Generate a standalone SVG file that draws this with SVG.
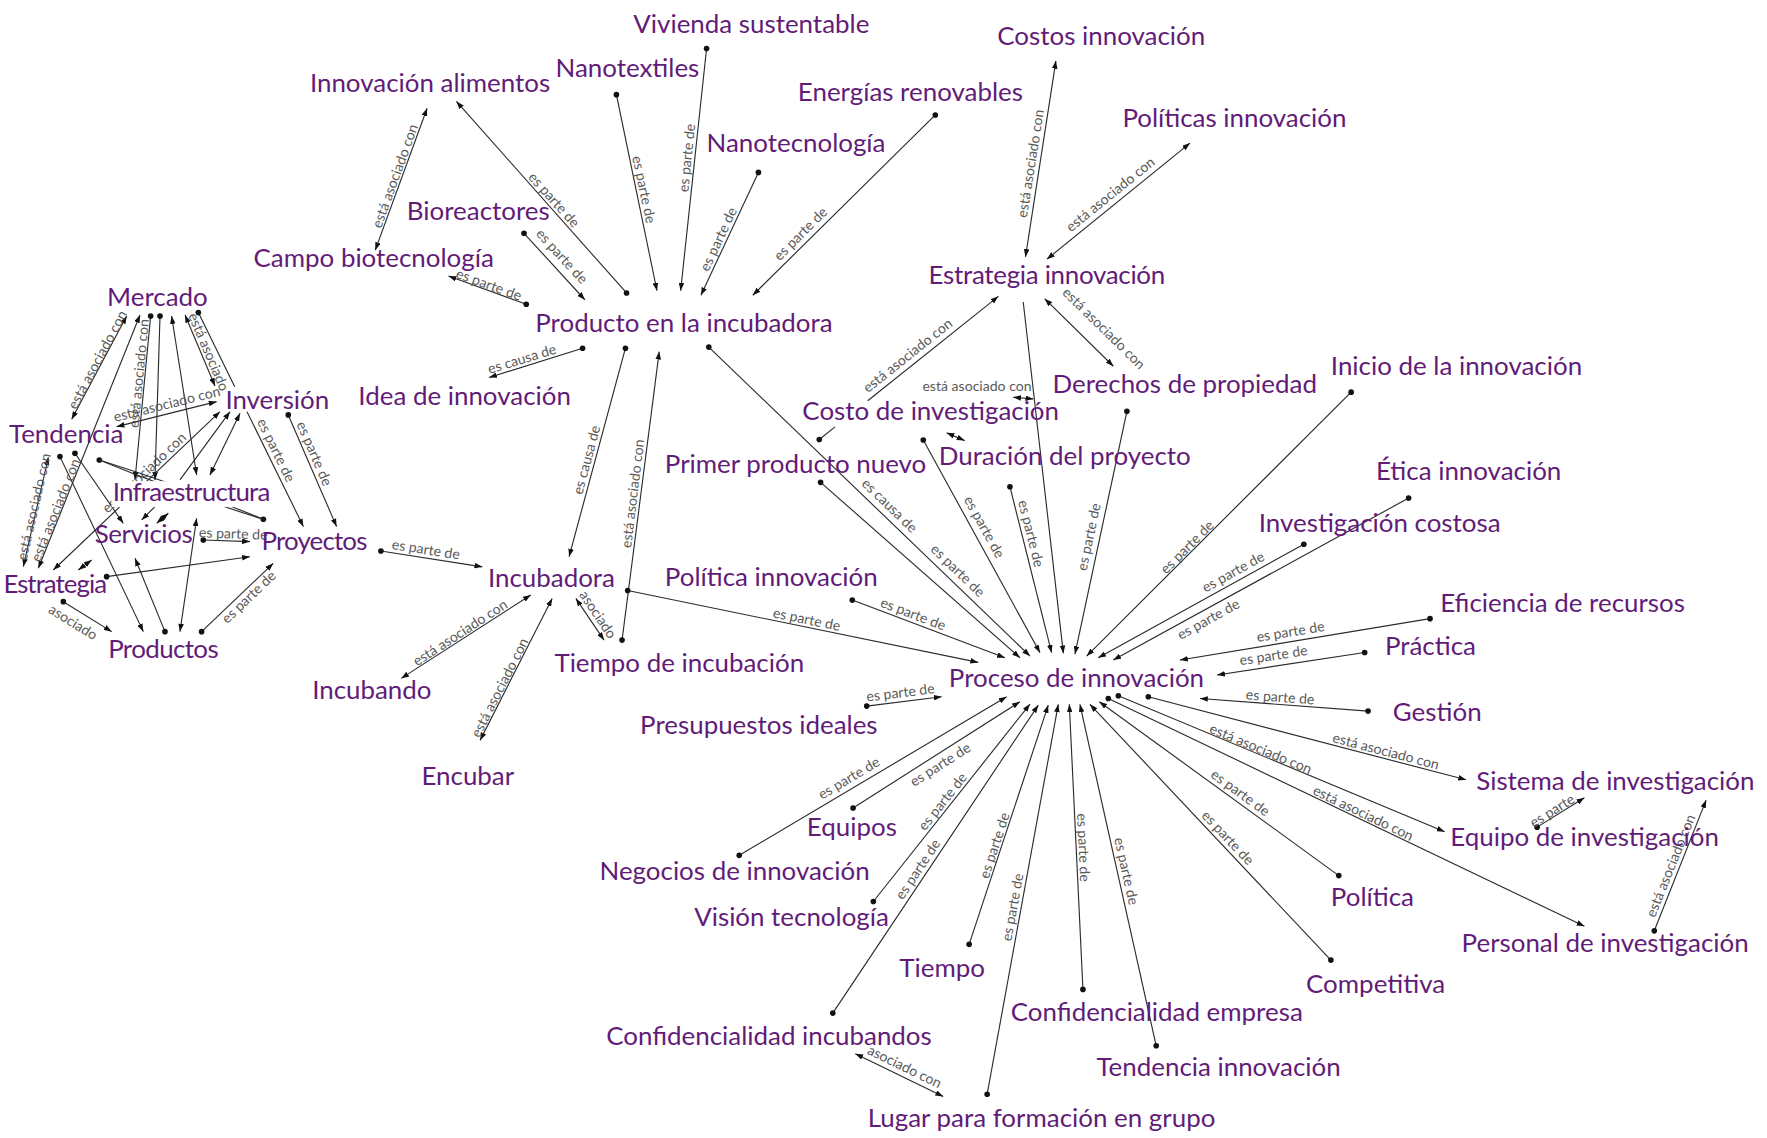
<svg xmlns="http://www.w3.org/2000/svg" width="1767" height="1138" viewBox="0 0 1767 1138">
<style>
.n{font-family:Lato,"Open Sans",sans-serif;font-size:23px;fill:#621c78}
.l{font-family:Lato,"Open Sans",sans-serif;font-size:12.5px;fill:#5a5a5a;text-anchor:middle;dominant-baseline:central}
.c{stroke:#2a2a2a;stroke-width:1;fill:none}
.e{marker-start:url(#dot);marker-end:url(#ah)}
.b{marker-start:url(#ah);marker-end:url(#ah)}
.a{marker-end:url(#ah)}
.d{marker-start:url(#dot)}
.dd{marker-start:url(#dot);marker-end:url(#dot)}
</style>
<defs>
<marker id="ah" viewBox="0 0 7 5" refX="7" refY="2.5" markerWidth="7" markerHeight="5" orient="auto-start-reverse" markerUnits="userSpaceOnUse"><path d="M0,0L7,2.5L0,5z" fill="#111"/></marker>
<marker id="dot" viewBox="-3 -3 6 6" refX="0" refY="0" markerWidth="6" markerHeight="6" markerUnits="userSpaceOnUse"><circle r="2.5" fill="#111"/></marker>
</defs>
<rect width="1767" height="1138" fill="#fff"/>
<g transform="scale(1.1269)">
<g id="connectors">
<line class="c b" x1="333" y1="222" x2="379" y2="96"/><text class="l" transform="translate(350,156) rotate(-70)">está asociado con</text>
<line class="c e" x1="556" y1="260" x2="405" y2="90"/><text class="l" transform="translate(492,177) rotate(48)">es parte de</text>
<line class="c e" x1="465" y1="207" x2="519" y2="266"/><text class="l" transform="translate(499,227) rotate(47.5)">es parte de</text>
<line class="c e" x1="467" y1="270" x2="398" y2="245"/><text class="l" transform="translate(434,252) rotate(20)">es parte de</text>
<line class="c e" x1="547" y1="84" x2="583" y2="258"/><text class="l" transform="translate(572,168) rotate(78)">es parte de</text>
<line class="c e" x1="627" y1="43" x2="604" y2="258"/><text class="l" transform="translate(609,140) rotate(-84)">es parte de</text>
<line class="c e" x1="673" y1="153" x2="622" y2="262"/><text class="l" transform="translate(637,212) rotate(-65)">es parte de</text>
<line class="c e" x1="830" y1="102" x2="668" y2="262"/><text class="l" transform="translate(710,207) rotate(-45)">es parte de</text>
<line class="c e" x1="517" y1="309" x2="434" y2="335"/><text class="l" transform="translate(463,318) rotate(-17)">es causa de</text>
<line class="c e" x1="555" y1="309" x2="505" y2="494"/><text class="l" transform="translate(520,408) rotate(-75)">es causa de</text>
<line class="c e" x1="552" y1="568" x2="585" y2="312"/><text class="l" transform="translate(561,438) rotate(-83)">está asociado con</text>
<line class="c e" x1="629" y1="308" x2="914" y2="582.2"/><text class="l" transform="translate(789.8,448.2) rotate(44)">es causa de</text><text class="l" transform="translate(850.4,505.9) rotate(44)">es parte de</text>
<line class="c e" x1="728.2" y1="428" x2="905.1" y2="583.7"/>
<line class="c e" x1="756.3" y1="532.5" x2="891.8" y2="583.7"/><text class="l" transform="translate(810.5,544.3) rotate(21)">es parte de</text>
<line class="c e" x1="557" y1="524" x2="868.1" y2="587.8"/><text class="l" transform="translate(716,549) rotate(11.6)">es parte de</text>
<line class="c e" x1="819.3" y1="390.5" x2="922.9" y2="579.2"/><text class="l" transform="translate(874,467.4) rotate(61)">es parte de</text>
<line class="c e" x1="896.2" y1="431.9" x2="933.2" y2="579.2"/><text class="l" transform="translate(915.5,473.3) rotate(76)">es parte de</text>
<line class="c a" x1="908" y1="268" x2="943.6" y2="579.8"/>
<line class="c e" x1="1000" y1="365" x2="953.9" y2="580.4"/><text class="l" transform="translate(965.7,476.3) rotate(-78)">es parte de</text>
<line class="c e" x1="1199" y1="348" x2="964.3" y2="582.2"/><text class="l" transform="translate(1053,485) rotate(-45)">es parte de</text>
<line class="c e" x1="1157" y1="483" x2="974.6" y2="583.7"/><text class="l" transform="translate(1094,507) rotate(-29)">es parte de</text>
<line class="c e" x1="1250" y1="442" x2="987.9" y2="585.7"/><text class="l" transform="translate(1072,549) rotate(-29)">es parte de</text>
<line class="c e" x1="1269" y1="549" x2="1047.1" y2="585.7"/><text class="l" transform="translate(1145,560) rotate(-9.4)">es parte de</text>
<line class="c e" x1="1211" y1="579" x2="1080" y2="599"/><text class="l" transform="translate(1130,581) rotate(-8.7)">es parte de</text>
<line class="c e" x1="1214" y1="631" x2="1064.8" y2="619.8"/><text class="l" transform="translate(1136,618) rotate(4.3)">es parte de</text>
<line class="c e" x1="1019" y1="618.3" x2="1301" y2="692"/><text class="l" transform="translate(1230,666) rotate(14.7)">está asociado con</text>
<line class="c e" x1="992.4" y1="617.4" x2="1282" y2="738"/><text class="l" transform="translate(1119,664) rotate(22.6)">está asociado con</text>
<line class="c e" x1="983.5" y1="619.8" x2="1406" y2="822"/><text class="l" transform="translate(1210,721) rotate(25.6)">está asociado con</text>
<line class="c e" x1="1188" y1="777" x2="975.5" y2="622.7"/><text class="l" transform="translate(1101,703) rotate(36)">es parte de</text>
<line class="c e" x1="1181" y1="852" x2="967.2" y2="625"/><text class="l" transform="translate(1090,743) rotate(46.7)">es parte de</text>
<line class="c e" x1="1026" y1="928" x2="958.3" y2="625"/><text class="l" transform="translate(1000,773) rotate(77.4)">es parte de</text>
<line class="c e" x1="961" y1="878" x2="948.9" y2="625"/><text class="l" transform="translate(962,752) rotate(87.3)">es parte de</text>
<line class="c e" x1="876" y1="971" x2="939.1" y2="625"/><text class="l" transform="translate(898,805) rotate(-79.7)">es parte de</text>
<line class="c e" x1="860" y1="838" x2="930.2" y2="625.7"/><text class="l" transform="translate(882,750) rotate(-71.7)">es parte de</text>
<line class="c e" x1="739" y1="899" x2="921.4" y2="625.7"/><text class="l" transform="translate(814,771) rotate(-56.3)">es parte de</text>
<line class="c e" x1="775" y1="800" x2="914" y2="624.8"/><text class="l" transform="translate(836,711) rotate(-51.6)">es parte de</text>
<line class="c e" x1="757" y1="717" x2="905.1" y2="622.7"/><text class="l" transform="translate(834,678) rotate(-32.5)">es parte de</text>
<line class="c e" x1="656" y1="759" x2="893.3" y2="618.3"/><text class="l" transform="translate(753,690) rotate(-30.7)">es parte de</text>
<line class="c e" x1="769.1" y1="626.6" x2="835.6" y2="618.3"/><text class="l" transform="translate(799,614) rotate(-7)">es parte de</text>
<line class="c b" x1="937" y1="54" x2="910" y2="228"/><text class="l" transform="translate(914,145) rotate(-81)">está asociado con</text>
<line class="c b" x1="1056" y1="127" x2="929" y2="230"/><text class="l" transform="translate(985,172) rotate(-39)">está asociado con</text>
<line class="c b" x1="927" y1="265" x2="988" y2="325"/><text class="l" transform="translate(980,291) rotate(44.5)">está asociado con</text>
<line class="c d" x1="727" y1="390" x2="741" y2="378.8"/><line class="c a" x1="770" y1="355.6" x2="886" y2="263"/><text class="l" transform="translate(805,315) rotate(-38.6)">está asociado con</text>
<text class="l" x="867" y="342">está asociado con</text><line class="c b" x1="899" y1="352.5" x2="917" y2="354"/>
<line class="c b" x1="840" y1="384" x2="856" y2="391"/>
<line class="c e" x1="338" y1="489" x2="428" y2="503"/><text class="l" transform="translate(378,487) rotate(8.8)">es parte de</text>
<line class="c b" x1="471" y1="528" x2="356" y2="602"/><text class="l" transform="translate(408,561) rotate(-33)">está asociado con</text>
<line class="c b" x1="490" y1="531" x2="426" y2="657"/><text class="l" transform="translate(443,610) rotate(-63)">está asociado con</text>
<line class="c b" x1="511" y1="531" x2="536" y2="568"/><text class="l" transform="translate(531,545) rotate(56)">asociado</text>
<line class="c b" x1="759" y1="935" x2="837" y2="973"/><text class="l" transform="translate(803,946) rotate(26)">asociado con</text>
<line class="c e" x1="1364" y1="734" x2="1406" y2="708"/><text class="l" transform="translate(1377,719) rotate(-32)">es parte</text>
<line class="c e" x1="1468" y1="826" x2="1514" y2="710"/><text class="l" transform="translate(1482,768) rotate(-68)">está asociado con</text>
<line class="c b" x1="112.4" y1="280.4" x2="63.6" y2="372.1"/><text class="l" transform="translate(86,319) rotate(-62)">está asociado con</text>
<line class="c b" x1="124.2" y1="279.5" x2="34" y2="504.3"/><text class="l" transform="translate(48.8,452.5) rotate(-68)">está asociado con</text>
<line class="c b" x1="42.9" y1="405.8" x2="20.7" y2="502.8"/><text class="l" transform="translate(29.6,449.6) rotate(-77)">está asociado con</text>
<line class="c e" x1="133.7" y1="280.4" x2="119.8" y2="425.9"/><text class="l" transform="translate(122.7,331.3) rotate(-84.5)">está asociado con</text>
<line class="c e" x1="142" y1="280.4" x2="137.5" y2="425.9"/>
<line class="c b" x1="152.3" y1="280.4" x2="174.5" y2="421.5"/>
<line class="c b" x1="164.2" y1="279.5" x2="190.8" y2="342.5"/><text class="l" transform="translate(185.7,312) rotate(67)">está asociado</text>
<line class="c d" x1="176" y1="277.4" x2="208.3" y2="343.1"/><line class="c a" x1="219.2" y1="365.3" x2="269.2" y2="467.3"/><text class="l" transform="translate(245.5,399.3) rotate(64)">es parte de</text>
<line class="c e" x1="255.8" y1="368.2" x2="298.7" y2="467.3"/><text class="l" transform="translate(279.5,402.3) rotate(66.6)">es parte de</text>
<line class="c b" x1="192.2" y1="356.4" x2="103.5" y2="378.6"/><text class="l" transform="translate(147.9,358) rotate(-14)">está asociado con</text>
<line class="c b" x1="47.3" y1="505.8" x2="195.2" y2="365.3"/><text class="l" transform="translate(127.5,419) rotate(-43.5)">está asociado con</text>
<line class="c a" x1="159.7" y1="425.9" x2="204.1" y2="365.3"/>
<line class="c b" x1="213" y1="366.8" x2="186.3" y2="421.5"/>
<line class="c e" x1="53.2" y1="405.2" x2="127.2" y2="560.5"/>
<line class="c e" x1="66.5" y1="402.2" x2="109.4" y2="464.4"/>
<path class="c dd" d="M88.1,408.2 Q160.9,431 233.7,460.8"/>
<path class="c" d="M88.1,408.2 Q160.9,438 233.7,460.8"/>
<line class="c a" x1="137.5" y1="449.6" x2="125.7" y2="461.4"/>
<line class="c b" x1="139" y1="464.4" x2="149.4" y2="455.5"/>
<line class="c e" x1="180.4" y1="479.2" x2="221.8" y2="480.6"/><text class="l" transform="translate(207,473) rotate(2)">es parte de</text>
<line class="c e" x1="94.6" y1="511.7" x2="221.8" y2="494"/>
<line class="c b" x1="69.5" y1="505.8" x2="81.3" y2="496.9"/>
<line class="c e" x1="56.2" y1="533.9" x2="99.1" y2="560.5"/><text class="l" transform="translate(65.1,551.6) rotate(31.8)">asociado</text>
<line class="c e" x1="146.4" y1="560.5" x2="119.8" y2="495.4"/>
<line class="c b" x1="159.7" y1="560.5" x2="174.5" y2="459.9"/>
<line class="c e" x1="178.9" y1="560.5" x2="242.5" y2="499.9"/><text class="l" transform="translate(220.3,529.4) rotate(-43.6)">es parte de</text>
</g>
<g id="nodes">
<g id="n-vivienda"><text class="n" x="562" y="29">Vivienda sustentable</text></g>
<g id="n-nanotextiles"><text class="n" x="493" y="68">Nanotextiles</text></g>
<g id="n-alimentos"><text class="n" x="275" y="82">Innovación alimentos</text></g>
<g id="n-energias"><text class="n" x="708" y="90">Energías renovables</text></g>
<g id="n-nanotecnologia"><text class="n" x="627" y="135">Nanotecnología</text></g>
<g id="n-bioreactores"><text class="n" x="361" y="195">Bioreactores</text></g>
<g id="n-biotecnologia"><text class="n" x="225" y="237">Campo biotecnología</text></g>
<g id="n-producto"><text class="n" x="475" y="295">Producto en la incubadora</text></g>
<g id="n-idea"><text class="n" x="318" y="359">Idea de innovación</text></g>
<g id="n-costos"><text class="n" x="885" y="40">Costos innovación</text></g>
<g id="n-politicas"><text class="n" x="996" y="113">Políticas innovación</text></g>
<g id="n-estrategia-inn"><text class="n" x="824" y="252" textLength="210">Estrategia innovación</text></g>
<g id="n-derechos"><text class="n" x="934" y="349">Derechos de propiedad</text></g>
<g id="n-costo-inv"><text class="n" x="712" y="373">Costo de investigación</text></g>
<g id="n-inicio"><text class="n" x="1181" y="333">Inicio de la innovación</text></g>
<g id="n-primer"><text class="n" x="590" y="420">Primer producto nuevo</text></g>
<g id="n-duracion"><text class="n" x="833" y="413">Duración del proyecto</text></g>
<g id="n-etica"><text class="n" x="1221" y="426">Ética innovación</text></g>
<g id="n-inv-costosa"><text class="n" x="1117" y="472">Investigación costosa</text></g>
<g id="n-politica-inn"><text class="n" x="590" y="520">Política innovación</text></g>
<g id="n-incubadora"><text class="n" x="433" y="521">Incubadora</text></g>
<g id="n-eficiencia"><text class="n" x="1278" y="543">Eficiencia de recursos</text></g>
<g id="n-practica"><text class="n" x="1229" y="581">Práctica</text></g>
<g id="n-tiempo-inc"><text class="n" x="492" y="596">Tiempo de incubación</text></g>
<g id="n-proceso"><text class="n" x="842" y="610">Proceso de innovación</text></g>
<g id="n-incubando"><text class="n" x="277" y="620">Incubando</text></g>
<g id="n-gestion"><text class="n" x="1236" y="640">Gestión</text></g>
<g id="n-presupuestos"><text class="n" x="568" y="651">Presupuestos ideales</text></g>
<g id="n-encubar"><text class="n" x="374" y="697">Encubar</text></g>
<g id="n-sistema"><text class="n" x="1310" y="701">Sistema de investigación</text></g>
<g id="n-equipos"><text class="n" x="716" y="742">Equipos</text></g>
<g id="n-equipo-inv"><text class="n" x="1287" y="751">Equipo de investigación</text></g>
<g id="n-negocios"><text class="n" x="532" y="781">Negocios de innovación</text></g>
<g id="n-politica"><text class="n" x="1181" y="804">Política</text></g>
<g id="n-vision"><text class="n" x="616" y="822">Visión tecnología</text></g>
<g id="n-personal"><text class="n" x="1297" y="845">Personal de investigación</text></g>
<g id="n-tiempo"><text class="n" x="798" y="867">Tiempo</text></g>
<g id="n-competitiva"><text class="n" x="1159" y="881">Competitiva</text></g>
<g id="n-conf-empresa"><text class="n" x="897" y="906">Confidencialidad empresa</text></g>
<g id="n-conf-incubandos"><text class="n" x="538" y="927">Confidencialidad incubandos</text></g>
<g id="n-tendencia-inn"><text class="n" x="973" y="955">Tendencia innovación</text></g>
<g id="n-lugar"><text class="n" x="770" y="1000">Lugar para formación en grupo</text></g>
<g id="n-mercado"><text class="n" x="95" y="271.5">Mercado</text></g>
<g id="n-inversion"><text class="n" x="200" y="363">Inversión</text></g>
<g id="n-tendencia"><text class="n" x="8" y="393">Tendencia</text></g>
<g id="n-infraestructura"><rect x="99" y="427" width="142" height="23" fill="#fff"/><text class="n" x="100" y="445" textLength="140">Infraestructura</text></g>
<g id="n-servicios"><text class="n" x="84" y="482" textLength="87">Servicios</text></g>
<g id="n-proyectos"><text class="n" x="232" y="488" textLength="94">Proyectos</text></g>
<g id="n-estrategia"><text class="n" x="3" y="526" textLength="92">Estrategia</text></g>
<g id="n-productos"><text class="n" x="96" y="584" textLength="98">Productos</text></g>
</g>
</g>
</svg>
